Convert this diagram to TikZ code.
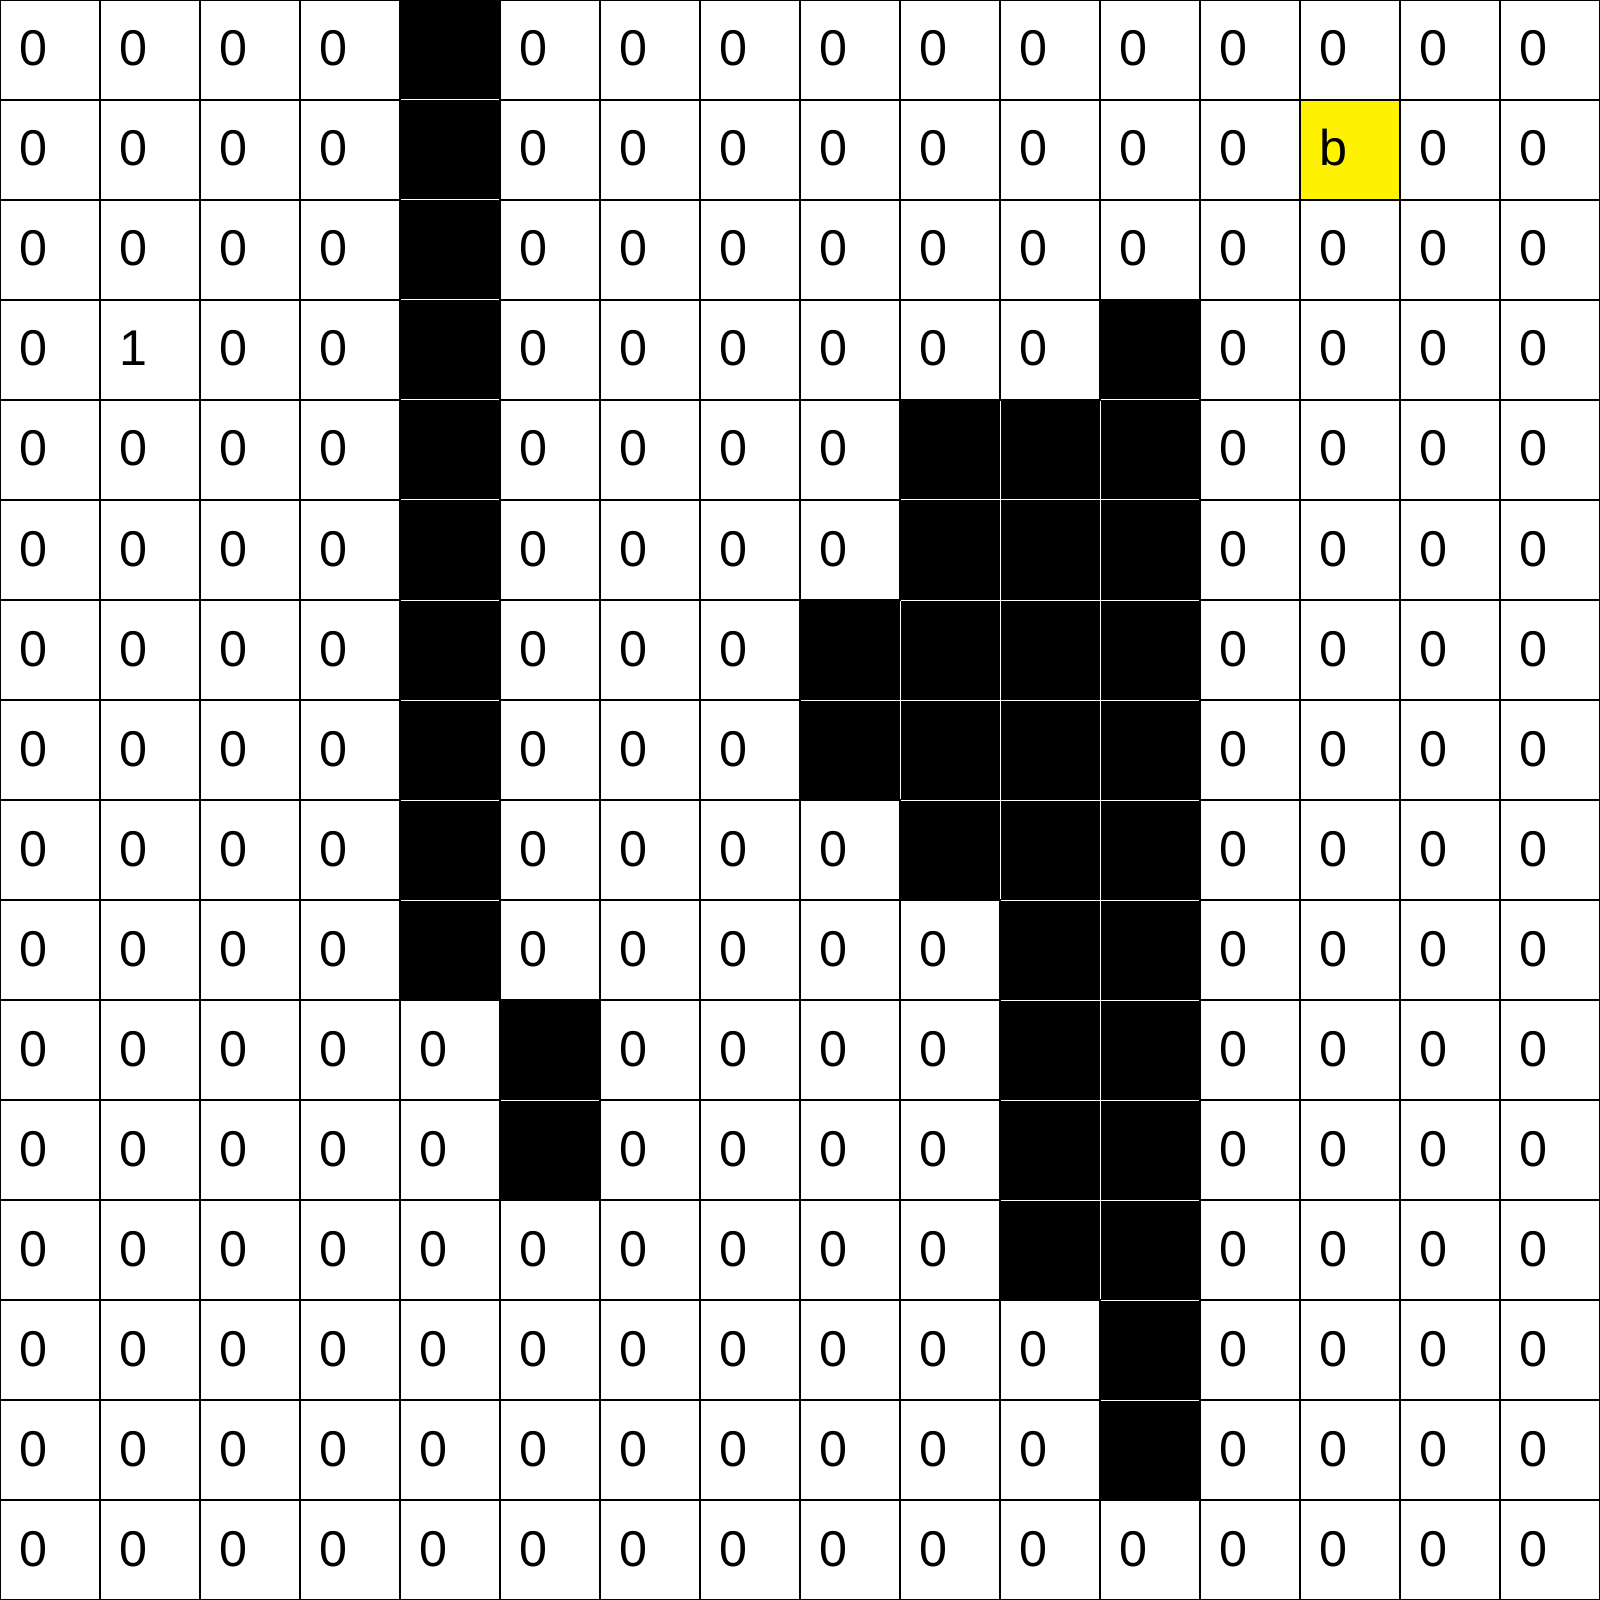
\documentclass[tikz,border=0pt]{standalone}
\usepackage{fontspec}
\setmainfont{Liberation Sans}
\usepackage{tikz}

\begin{document}
\begin{tikzpicture}[x=1cm,y=-1cm]

  \tikzstyle{cell}=[rectangle,draw=black,line width=0.57pt,minimum size=1cm,
    inner xsep=0.19cm,inner ysep=0pt,text width=0.62cm,align=left,
    text height=0.36cm,text depth=0.04cm,font=\fontsize{14.3}{17}\selectfont]
  \tikzstyle{wall}=[rectangle,fill=black,minimum size=0.99cm,inner sep=0pt]
  \tikzstyle{goal}=[cell,fill=yellow]

  \useasboundingbox (0,0) rectangle (16,16);

  %% x = wall, b = goal
  \foreach \rowvals [count=\r from 0] in {
      {0,0,0,0,x,0,0,0,0,0,0,0,0,0,0,0},
      {0,0,0,0,x,0,0,0,0,0,0,0,0,b,0,0},
      {0,0,0,0,x,0,0,0,0,0,0,0,0,0,0,0},
      {0,1,0,0,x,0,0,0,0,0,0,x,0,0,0,0},
      {0,0,0,0,x,0,0,0,0,x,x,x,0,0,0,0},
      {0,0,0,0,x,0,0,0,0,x,x,x,0,0,0,0},
      {0,0,0,0,x,0,0,0,x,x,x,x,0,0,0,0},
      {0,0,0,0,x,0,0,0,x,x,x,x,0,0,0,0},
      {0,0,0,0,x,0,0,0,0,x,x,x,0,0,0,0},
      {0,0,0,0,x,0,0,0,0,0,x,x,0,0,0,0},
      {0,0,0,0,0,x,0,0,0,0,x,x,0,0,0,0},
      {0,0,0,0,0,x,0,0,0,0,x,x,0,0,0,0},
      {0,0,0,0,0,0,0,0,0,0,x,x,0,0,0,0},
      {0,0,0,0,0,0,0,0,0,0,0,x,0,0,0,0},
      {0,0,0,0,0,0,0,0,0,0,0,x,0,0,0,0},
      {0,0,0,0,0,0,0,0,0,0,0,0,0,0,0,0}}
  {
    \foreach \v [count=\c from 0] in \rowvals {
      \if\v x
        \node (c-\r-\c) at (\c+0.5,\r+0.5) [wall] {};
      \else\if\v b
        \node (c-\r-\c) at (\c+0.5,\r+0.5) [goal] {\v};
      \else
        \node (c-\r-\c) at (\c+0.5,\r+0.5) [cell] {\v};
      \fi\fi
    }
  }
\end{tikzpicture}
\end{document}
